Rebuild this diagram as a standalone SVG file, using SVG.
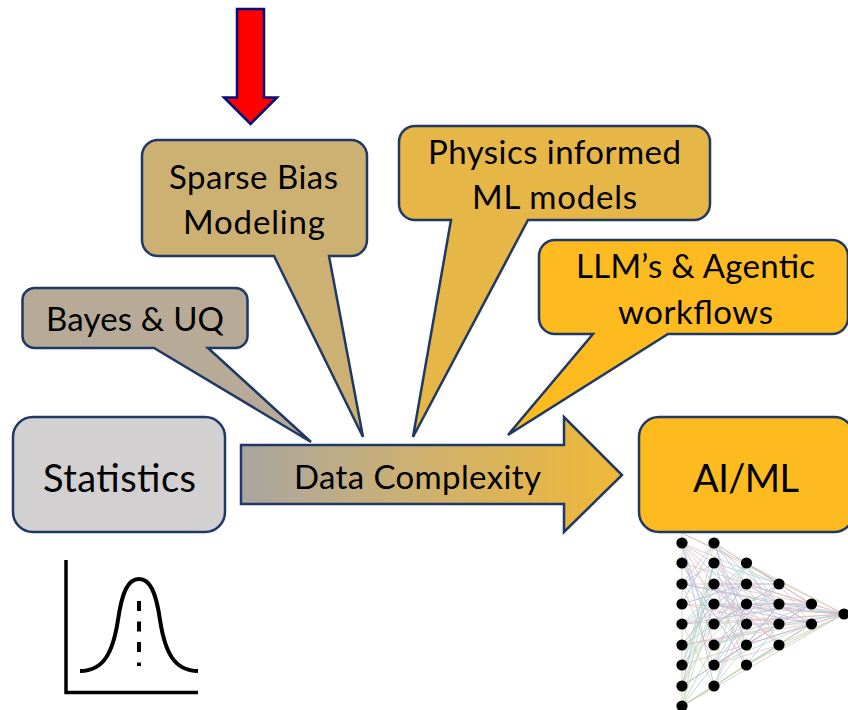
<svg xmlns="http://www.w3.org/2000/svg" width="848" height="710" viewBox="0 0 848 710">
<style>
.s{stroke:#1f3864;stroke-width:2.5;stroke-linejoin:miter}
text{font-family:"Lato","Open Sans",sans-serif;fill:#000;text-anchor:start}
.m{font-size:33px}
.l{font-size:38px}
.e{fill:none;stroke-width:.9;opacity:.85}
.n{fill:#000}
.b{fill:none;stroke:#000;stroke-width:3.5}
.c{fill:none;stroke:#000;stroke-width:4}
</style>
<defs>
<linearGradient id="g" x1="0" x2="1" y1="0" y2="0"><stop offset="0" stop-color="#a9a5a1"/><stop offset=".45" stop-color="#cdb172"/><stop offset="1" stop-color="#efb836"/></linearGradient>
<circle id="d" r="5.600" class="n"/>
</defs>
<g id="connectors">
<path class="e" stroke="#d2c4b4" d="M682 533L844 614M682 533L682 706M682 543L779 584M682 563L811 604M682 604L844 614M682 665L811 624M682 706L844 614M714 543L811 604M714 686L811 624M746 563L844 614M746 665L844 614M682 543L714 604M682 584L714 665M682 686L746 645M714 584L746 665M746 604L779 645M779 584L811 624M682 533L746 563M682 706L714 686M714 686L746 665M746 665L779 645M714 543L746 563M746 563L779 584M682 624L844 614M682 584L844 614M682 645L844 614M714 604L844 614"/>
<path class="e" stroke="#b7d9ae" d="M682 706L714 563M682 686L714 543M682 645L746 563M682 706L779 645M682 665L746 604M714 665L746 563M714 686L779 604M714 624L779 584M746 584L779 645M746 645L811 604M746 665L811 624M682 624L714 686M682 584L746 645M714 563L779 624M714 604L746 645M779 645L844 614M746 563L779 584M746 624L811 624M682 706L714 645M682 706L714 604M682 686L714 604M682 665L714 563M714 665L811 624M714 645L779 624M746 604L779 604M746 563L779 604M746 584L811 604M682 706L811 624"/>
<path class="e" stroke="#bcb0dc" d="M682 543L714 686M682 563L746 665M682 604L746 584M682 645L714 604M682 686L779 624M714 543L746 624M714 584L779 645M714 604L811 624M714 645L779 584M746 563L811 604M746 604L844 614M746 645L779 604M779 604L811 604M682 584L779 604M682 624L811 604M714 665L811 604M714 563L746 604M682 543L714 645M682 584L714 563M682 665L746 584M714 543L779 604M714 584L779 584M714 624L746 604M746 604L811 624M746 645L844 614"/>
<path class="e" stroke="#a6cbdc" d="M682 563L714 624M682 604L714 543M682 624L746 584M682 665L714 584M682 706L746 624M714 543L746 584M714 563L746 645M714 624L746 563M714 645L811 604M714 686L746 604M746 584L811 624M746 624L779 584M779 624L844 614M682 645L779 584M682 543L746 604M714 604L779 604M746 665L779 624M682 686L714 563M682 624L746 563M714 563L779 584M714 665L746 604M746 563L779 624M779 604L844 614M714 584L746 624"/>
<path class="e" stroke="#e2bccb" d="M682 584L714 543M682 543L746 624M682 563L779 645M682 604L779 624M682 645L811 624M682 686L714 624M714 584L811 604M714 624L844 614M714 645L746 624M714 665L779 645M746 584L844 614M746 604L811 604M746 624L779 624M779 604L811 624M779 645L811 624M682 624L746 604M714 563L811 624M682 543L714 563M682 584L779 584M714 543L746 645M714 604L779 624M714 686L746 624M746 645L779 624M779 584L811 604M811 604L844 614M811 624L844 614"/>
</g>
<g id="ai-ml"><rect class="s" x="639" y="417" width="215" height="115" rx="20" fill="#fdbb1f"/><text class="l" x="693" y="492" textLength="106" lengthAdjust="spacing">AI/ML</text></g>
<g id="statistics"><rect class="s" x="13" y="417" width="212" height="115" rx="20" fill="#d2d0d1"/><text class="l" x="43" y="492" textLength="153" lengthAdjust="spacing">Statistics</text></g>
<g id="data-complexity"><path class="s" d="M241 445H564V417L622 475L564 532V504H241Z" fill="url(#g)"/><text class="m" x="294" y="489" textLength="247" lengthAdjust="spacing">Data Complexity</text></g>
<g id="bayes"><path class="s" d="M35 288H235A12 12 0 0 1 247.500 300V336A12 12 0 0 1 235 348H208L311 442L154 348H35A12 12 0 0 1 22.500 336V300A12 12 0 0 1 35 288Z" fill="#b7aa97"/><text class="m" x="46" y="331" textLength="178" lengthAdjust="spacing">Bayes &amp; UQ</text></g>
<g id="sparse"><path class="s" d="M158 140H351A16 16 0 0 1 367 156V240A16 16 0 0 1 351 256H329L363 437L274 256H158A16 16 0 0 1 142 240V156A16 16 0 0 1 158 140Z" fill="#cdb172"/><text class="m" x="169" y="189" textLength="169" lengthAdjust="spacing">Sparse Bias</text><text class="m" x="183" y="234" textLength="142" lengthAdjust="spacing">Modeling</text></g>
<g id="physics"><path class="s" d="M415 126H694A16 16 0 0 1 710 142V204A16 16 0 0 1 694 220H528L413 437L451 220H415A16 16 0 0 1 399 204V142A16 16 0 0 1 415 126Z" fill="#e6b646"/><text class="m" x="428" y="164" textLength="253" lengthAdjust="spacing">Physics informed</text><text class="m" x="472" y="209" textLength="165" lengthAdjust="spacing">ML models</text></g>
<g id="llm"><path class="s" d="M555 240H832A16 16 0 0 1 848 256V318A16 16 0 0 1 832 334H668L508 435L593 334H555A16 16 0 0 1 539 318V256A16 16 0 0 1 555 240Z" fill="#fdbb1f"/><text class="m" x="576" y="278" textLength="239" lengthAdjust="spacing">LLM’s &amp; Agentic</text><text class="m" x="618" y="324" textLength="155" lengthAdjust="spacing">workflows</text></g>
<g id="red-arrow"><path d="M237 9H264V97.500H277L250.500 124L224 97.500H237Z" fill="#f00" stroke="#000f80" stroke-width="2.500"/></g>
<g id="bell-curve">
<path class="b" d="M66 560V692.500H198"/>
<path class="c" d="M80 671C104 671 113 652 118 620C122 592 128 579 139 579C150 579 156 592 160 620C165 652 174 671 198 671"/>
<path d="M139 601V666" stroke="#000" stroke-width="4" stroke-dasharray="10 10.500" fill="none"/>
</g>
<g id="network">
<use href="#d" x="682" y="543"/><use href="#d" x="682" y="563"/><use href="#d" x="682" y="584"/><use href="#d" x="682" y="604"/><use href="#d" x="682" y="624"/><use href="#d" x="682" y="645"/><use href="#d" x="682" y="665"/><use href="#d" x="682" y="686"/><use href="#d" x="682" y="706"/>
<use href="#d" x="714" y="543"/><use href="#d" x="714" y="563"/><use href="#d" x="714" y="584"/><use href="#d" x="714" y="604"/><use href="#d" x="714" y="624"/><use href="#d" x="714" y="645"/><use href="#d" x="714" y="665"/><use href="#d" x="714" y="686"/>
<use href="#d" x="746.500" y="563"/><use href="#d" x="746.500" y="584"/><use href="#d" x="746.500" y="604"/><use href="#d" x="746.500" y="624"/><use href="#d" x="746.500" y="645"/><use href="#d" x="746.500" y="665"/>
<use href="#d" x="779" y="584"/><use href="#d" x="779" y="604"/><use href="#d" x="779" y="624"/><use href="#d" x="779" y="645"/>
<use href="#d" x="811.500" y="604"/><use href="#d" x="811.500" y="624"/>
<use href="#d" x="844" y="614"/>
</g>
</svg>
